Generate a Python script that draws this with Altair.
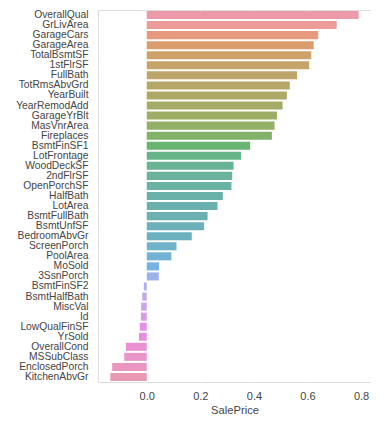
import math
import colorsys
import altair as alt
import pandas as pd

features = ["OverallQual", "GrLivArea", "GarageCars", "GarageArea", "TotalBsmtSF",
            "1stFlrSF", "FullBath", "TotRmsAbvGrd", "YearBuilt", "YearRemodAdd",
            "GarageYrBlt", "MasVnrArea", "Fireplaces", "BsmtFinSF1", "LotFrontage",
            "WoodDeckSF", "2ndFlrSF", "OpenPorchSF", "HalfBath", "LotArea",
            "BsmtFullBath", "BsmtUnfSF", "BedroomAbvGr", "ScreenPorch", "PoolArea",
            "MoSold", "3SsnPorch", "BsmtFinSF2", "BsmtHalfBath", "MiscVal", "Id",
            "LowQualFinSF", "YrSold", "OverallCond", "MSSubClass", "EnclosedPorch",
            "KitchenAbvGr"]
corr = [0.791, 0.709, 0.640, 0.623, 0.614, 0.606, 0.561, 0.534, 0.523, 0.507,
        0.486, 0.477, 0.467, 0.386, 0.352, 0.324, 0.319, 0.316, 0.284, 0.264,
        0.227, 0.214, 0.168, 0.111, 0.092, 0.046, 0.045, -0.011, -0.017, -0.021,
        -0.022, -0.026, -0.029, -0.078, -0.084, -0.129, -0.136]
x_ticks = [0.0, 0.2, 0.4, 0.6, 0.8]

# --- HUSL palette (as seaborn's husl_palette), then desaturated 0.75 ---
M = [[3.2406, -1.5372, -0.4986], [-0.9689, 1.8758, 0.0415], [0.0557, -0.2040, 1.0570]]
REF_U, REF_V, LAB_E, LAB_K = 0.19784, 0.46834, 0.008856, 903.3


def max_chroma(L, H):
    hrad = math.radians(H)
    sinH, cosH = math.sin(hrad), math.cos(hrad)
    sub1 = (L + 16) ** 3 / 1560896.0
    sub2 = sub1 if sub1 > LAB_E else L / LAB_K
    result = float("inf")
    for m1, m2, m3 in M:
        top = (0.99915 * m1 + 1.05122 * m2 + 1.14460 * m3) * sub2
        rbottom = 0.86330 * m3 - 0.17266 * m2
        lbottom = 0.12949 * m3 - 0.38848 * m1
        bottom = (rbottom * sinH + lbottom * cosH) * sub2
        for t in (0.0, 1.0):
            C = L * (top - 1.05122 * t) / (bottom + 0.17266 * sinH * t)
            if 0.0 < C < result:
                result = C
    return result


def f_inv(t):
    return t ** 3 if t ** 3 > LAB_E else (116 * t - 16) / LAB_K


def from_linear(c):
    return 12.92 * c if c <= 0.0031308 else 1.055 * c ** (1 / 2.4) - 0.055


def husl_to_rgb(H, S, L):
    C = max_chroma(L, H) / 100.0 * S
    hr = math.radians(H)
    U, V = math.cos(hr) * C, math.sin(hr) * C
    varY = f_inv((L + 16.0) / 116.0)
    varU = U / (13.0 * L) + REF_U
    varV = V / (13.0 * L) + REF_V
    Y = varY
    X = 0.0 - (9.0 * Y * varU) / ((varU - 4.0) * varV - varU * varV)
    Z = (9.0 * Y - (15.0 * varV * Y) - (varV * X)) / (3.0 * varV)
    rgb = [from_linear(r[0] * X + r[1] * Y + r[2] * Z) for r in M]
    return [min(1, max(0, v)) for v in rgb]


n = len(features)
colors = []
for i in range(n):
    h = ((i / n) + 0.01) % 1 * 359
    r, g, b = husl_to_rgb(h, 0.9 * 99, 0.65 * 99)
    hh, ll, ss = colorsys.rgb_to_hls(r, g, b)
    r, g, b = colorsys.hls_to_rgb(hh, ll, ss * 0.75)
    colors.append("#%02x%02x%02x" % tuple(int(round(v * 255)) for v in (r, g, b)))

df = pd.DataFrame({"feature": features, "corr": corr})

FONT = "Liberation Sans"
TXT = "#444444"

chart = alt.Chart(df).mark_bar(opacity=0.8).encode(
    x=alt.X("corr:Q", title="SalePrice",
            scale=alt.Scale(domain=[-0.182, 0.837], nice=False, zero=False),
            axis=alt.Axis(values=x_ticks, format=".1f", grid=True, gridColor="white",
                          gridWidth=1.1, domain=False, ticks=False, tickSize=0,
                          labelPadding=8, titlePadding=3, titleFontWeight="normal",
                          titleFont=FONT, titleFontSize=11.2, titleColor=TXT,
                          labelFont=FONT, labelFontSize=11, labelColor=TXT)),
    y=alt.Y("feature:N", sort=features, title=None,
            scale=alt.Scale(paddingInner=0.2, paddingOuter=0.1),
            axis=alt.Axis(grid=False, domain=False, ticks=False, tickSize=0,
                          labelPadding=10, labelFont=FONT, labelFontSize=10.3,
                          labelColor=TXT)),
    color=alt.Color("feature:N", sort=features, legend=None,
                    scale=alt.Scale(domain=features, range=colors)),
).properties(
    width=273, height=372,
    autosize=alt.AutoSizeParams(type="none"),
    padding={"left": 90, "top": 2, "right": 0, "bottom": 40},
).configure_view(
    fill="#EAEAF2", stroke=None
).configure(background="white")

chart.save("out.html", embed_options={"renderer": "svg", "actions": False})
